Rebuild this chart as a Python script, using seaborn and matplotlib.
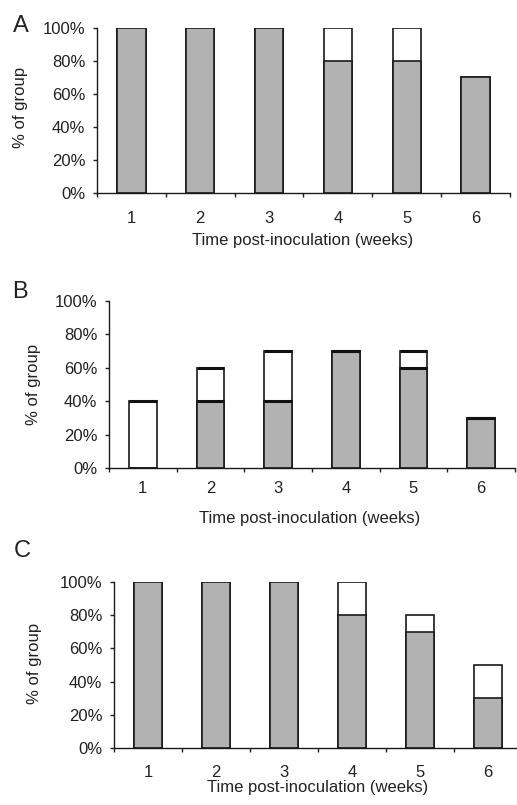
import numpy as np
import pandas as pd
import seaborn as sns
from matplotlib import pyplot as plt
from matplotlib.ticker import FixedLocator, PercentFormatter

# Weeks after inoculation
weeks = ["1", "2", "3", "4", "5", "6"]

# Percent of group, gray part (bottom) and white part (stacked on top)
a_gray = [100, 100, 100, 80, 80, 70]
a_white = [0, 0, 0, 20, 20, 0]
b_gray = [0, 40, 40, 70, 60, 30]
b_white = [40, 20, 30, 0, 10, 0]
c_gray = [100, 100, 100, 80, 70, 30]
c_white = [0, 0, 0, 20, 10, 20]

panel_names = ["A", "B", "C"]
y_ticks = [0, 20, 40, 60, 80, 100]

sns.set_style("ticks")
plt.rcParams["font.family"] = ["Liberation Sans", "DejaVu Sans"]
plt.rcParams["text.color"] = "#222222"
plt.rcParams["axes.labelcolor"] = "#222222"
plt.rcParams["xtick.color"] = "#222222"
plt.rcParams["ytick.color"] = "#222222"

fig = plt.figure(figsize=(5.17, 8.05), dpi=100)

# axes boxes in pixels: left, right, bottom(y from top), top(y from top)
boxes = [(97, 510, 193, 28), (109, 515, 468, 301), (114, 522, 748, 582)]
ylab_pos = [(-0.186, 0.52), (-0.187, 0.50), (-0.194, 0.51)]
xlab_pos = [(0.499, -0.285), (0.495, -0.30), (0.50, -0.24)]
xtick_pad = [13, 9.5, 12]
letter_pos = [(21, 26), (20, 292), (22, 551)]
bar_w = 0.41

panels = [(a_gray, a_white), (b_gray, b_white), (c_gray, c_white)]
W, H = 517, 805

for i, (gray, white) in enumerate(panels):
    l, r, b, t = boxes[i]
    ax = fig.add_axes([l / W, (H - b) / H, (r - l) / W, (b - t) / H])
    total = np.array(gray) + np.array(white)
    df = pd.DataFrame({"week": weeks, "total": total, "gray": gray})
    sns.barplot(data=df, x="week", y="total", color="white", edgecolor="#1a1a1a",
                linewidth=1.2, width=bar_w, saturation=1, ax=ax)
    sns.barplot(data=df, x="week", y="gray", color="#b2b2b2", edgecolor="#1a1a1a",
                linewidth=1.2, width=bar_w, saturation=1, ax=ax)

    if panel_names[i] == "B":
        # panel B has heavier horizontal edges on the segments
        pos = np.arange(len(weeks))
        ax.hlines(total, pos - bar_w / 2, pos + bar_w / 2, color="#111111", lw=2.2, zorder=5)
        g = np.array(gray)
        keep = g > 0
        ax.hlines(g[keep], pos[keep] - bar_w / 2, pos[keep] + bar_w / 2,
                  color="#111111", lw=2.2, zorder=5)

    ax.set_xlim(-0.5, 5.5)
    ax.set_ylim(0, 100)
    ax.set_yticks(y_ticks)
    ax.yaxis.set_major_formatter(PercentFormatter(decimals=0))
    ax.tick_params(axis="y", length=3, width=1, pad=5.5, labelsize=12)

    # ticks sit between the categories, labels sit under the bars
    ax.xaxis.set_major_locator(FixedLocator(np.arange(-0.5, 6, 1)))
    ax.xaxis.set_minor_locator(FixedLocator(np.arange(6)))
    ax.set_xticklabels([""] * 7)
    ax.set_xticklabels(weeks, minor=True)
    ax.tick_params(axis="x", which="major", length=3, width=1)
    ax.tick_params(axis="x", which="minor", length=0, pad=xtick_pad[i], labelsize=12)

    for side in ["top", "right"]:
        ax.spines[side].set_visible(False)
    for side in ["left", "bottom"]:
        ax.spines[side].set_color("#1a1a1a")
        ax.spines[side].set_linewidth(1)

    ax.set_ylabel("% of group", fontsize=12)
    ax.yaxis.set_label_coords(*ylab_pos[i])
    ax.set_xlabel("Time post-inoculation (weeks)", fontsize=12)
    ax.xaxis.set_label_coords(*xlab_pos[i])
    ax.xaxis.label.set_va("center")
    ax.yaxis.label.set_va("center")

    lx, ly = letter_pos[i]
    fig.text(lx / W, 1 - ly / H, panel_names[i], fontsize=17,
             ha="center", va="center")

plt.savefig("out.png", dpi=100)
